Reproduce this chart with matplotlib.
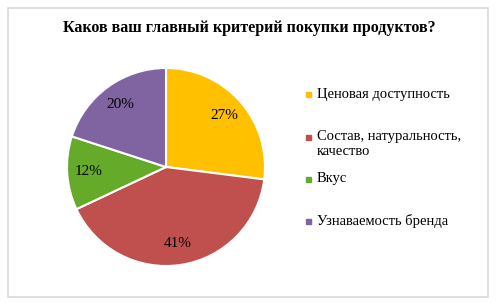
import matplotlib.pyplot as plt
from matplotlib.patches import Rectangle

# данные
labels = ["Ценовая доступность", "Состав, натуральность,\nкачество", "Вкус", "Узнаваемость бренда"]
values = [27, 41, 12, 20]
colors = ["#FFC000", "#C0504D", "#66AA2A", "#8064A2"]

plt.rcParams['font.family'] = ['Liberation Serif', 'DejaVu Serif']

W, H = 498, 308
fig = plt.figure(figsize=(W / 100, H / 100), dpi=100)

# рамка
fig.patches.append(Rectangle((7.5 / W, 1 - 296.5 / H), (488 - 7.5) / W, (296.5 - 7.5) / H,
                             transform=fig.transFigure, fill=False,
                             edgecolor="#D9D9D9", linewidth=1.2))

fig.text(249 / W, 1 - 28 / H, "Каков ваш главный критерий покупки продуктов?",
         ha="center", va="center", fontsize=11.5, fontweight="bold")

# круговая диаграмма
cx, cy, r = 166, 167, 99
ax = fig.add_axes([(cx - r) / W, 1 - (cy + r) / H, 2 * r / W, 2 * r / H])
wedges, texts, autotexts = ax.pie(values, colors=colors, startangle=90, counterclock=False,
                                  autopct="%d%%", pctdistance=0.78,
                                  wedgeprops=dict(edgecolor="white", linewidth=1.5),
                                  textprops=dict(fontsize=11))
ax.set_xlim(-1, 1)
ax.set_ylim(-1, 1)
ax.set_aspect("equal")

# легенда
leg_y = [95, 137, 179, 221]
for lab, c, y in zip(labels, colors, leg_y):
    fig.patches.append(Rectangle((306 / W, 1 - (y + 2.5) / H), 5 / W, 5 / H,
                                 transform=fig.transFigure, color=c))
    fig.text(317 / W, 1 - (y - 7) / H, lab, ha="left", va="top", fontsize=10.5,
             linespacing=1.2)

fig.savefig("out.png", dpi=100)
